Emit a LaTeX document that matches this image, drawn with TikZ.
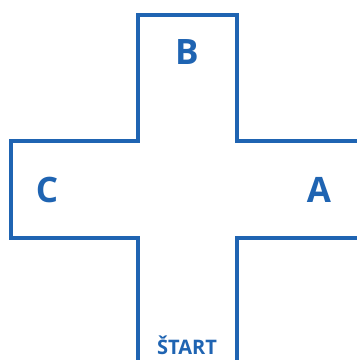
\documentclass[tikz,border=0pt]{standalone}
\usepackage{fontspec}
\setmainfont{Open Sans}
\definecolor{CrossBlue}{RGB}{31, 100, 178}
\usetikzlibrary{positioning}

\begin{document}
\begin{tikzpicture}[x=1pt, y=-1pt]
        \useasboundingbox (0,0) rectangle (357,360);
        % cross outline, open to the right and at the bottom
        \draw[CrossBlue, line width=3.2pt, line join=miter]
            (138,362) -- (138,238) -- (11,238) -- (11,141) -- (138,141)
            -- (138,15) -- (237,15) -- (237,141) -- (359,141);
        \draw[CrossBlue, line width=3.2pt, line join=miter]
            (359,238) -- (237,238) -- (237,362);
        % arm labels
        \node[font=\fontsize{35}{35}\selectfont\bfseries, CrossBlue] (armB) at (187,52) {B};
        \node[font=\fontsize{35}{35}\selectfont\bfseries, CrossBlue] (armC) at (47,190) {C};
        \node[font=\fontsize{35}{35}\selectfont\bfseries, CrossBlue] (armA) at (319,190) {A};
        \node[font=\fontsize{20}{20}\selectfont\bfseries, CrossBlue] (start) at (187,345) {ŠTART};
    \end{tikzpicture}
\end{document}
